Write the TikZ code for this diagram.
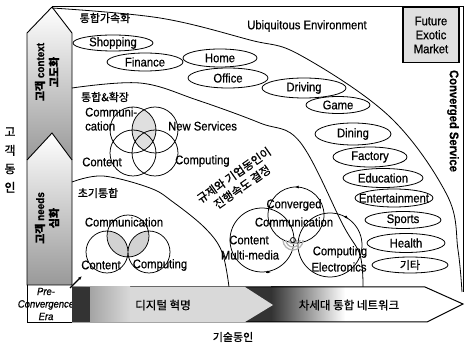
\documentclass[tikz,border=0pt]{standalone}
\usepackage{fontspec}
\setmainfont[FakeStretch=0.9, FakeBold=0.6]{Liberation Sans}
\newfontfamily\kr[FakeBold=0.8]{Noto Sans CJK KR}
\usetikzlibrary{shapes.geometric,arrows.meta}
\begin{document}
\begin{tikzpicture}[x=1pt,y=-1pt,
  every node/.style={inner sep=0pt},
  txt/.style={font=\fontsize{12.5}{14}\selectfont},
  ktxt/.style={font=\kr\fontsize{11}{13}\selectfont},
  oval/.style={ellipse, draw, fill=white, line width=0.8pt},
  arcline/.style={line width=0.8pt},
  vc/.style={line width=0.75pt},
  tick/.style={-{Latex[length=3.5pt,width=3pt]}, line width=0.7pt}]
\useasboundingbox (0,0) rectangle (466,347);

% left arrows
\shade[top color=white, middle color=white, bottom color=gray!80]
  (52,7) -- (72,33) -- (72,160) -- (27,160) -- (27,33) -- cycle;
\draw[line width=0.9pt] (52,7) -- (72,33) -- (72,160) (27,160) -- (27,33) -- (52,7);
\shade[top color=white, middle color=white, bottom color=gray!80]
  (52,133) -- (72,160) -- (72,285) -- (27,285) -- (27,160) -- cycle;
\draw[line width=0.9pt] (52,133) -- (72,160) -- (72,285) -- (27,285) -- (27,160) -- cycle;
\node[rotate=90, align=center, font=\bfseries\fontsize{11}{14}\selectfont] (ctx) at (47,72) {{\kr 고객} context\\{\kr 고도화}};
\node[rotate=90, align=center, font=\bfseries\fontsize{11}{14}\selectfont] (nds) at (47,218) {{\kr 고객} needs\\{\kr 심화}};

% frame
\draw[line width=1pt] (52,7) -- (463,7) -- (463,292);

% arcs
\draw[arcline] plot[smooth, tension=0.6] coordinates {(52,8) (160,18) (250,40) (300,55) (390,117) (447,195) (458,250) (462,292)};
\draw[arcline] plot[smooth, tension=0.6] coordinates {(72,88) (140,83) (197,100) (260,123) (300,142) (343,225) (360,255) (363,287)};
\draw[arcline] plot[smooth, tension=0.6] coordinates {(72,182) (103,176) (150,188) (173,202) (205,228) (222,252) (229,287)};

% future box
\node[draw, line width=1.2pt, fill=gray!25, minimum width=56, minimum height=55, align=center, txt] (fem) at (431,35) {Future\\Exotic\\Market};

% headings
\node[ktxt] (h1) at (105,18) {통합가속화};
\node[txt] (ue) at (307,26) {Ubiquitous Environment};
\node[rotate=-90, font=\bfseries\fontsize{12.5}{14}\selectfont] (cs) at (453,121) {Converged Service};
\node[ktxt] (h2) at (105,97) {통합\&확장};
\node[ktxt] (h3) at (98,193) {초기통합};

% ovals
\foreach \n/\x/\y/\w/\h in {shop/113/43/80/16, fin/145/62/76/18, home/220/58/74/18, off/228/78/80/20,
  drv/304/88/84/20, game/338/105/64/17, din/353/134/76/22, fac/370/157/74/20, edu/383/178/80/19,
  ent/394/198/78/18, spo/403/220/76/17, hea/406/243/78/19, etc/410/265/76/16}
  \node[oval, minimum width=\w, minimum height=\h] (\n) at (\x,\y) {};
\node[txt] at (shop) {Shopping};
\node[txt] at (fin) {Finance};
\node[txt] at (home) {Home};
\node[txt] at (off) {Office};
\node[txt] at (drv) {Driving};
\node[txt] at (game) {Game};
\node[txt] at (din) {Dining};
\node[txt] at (fac) {Factory};
\node[txt] at (edu) {Education};
\node[txt] at (ent) {Entertainment};
\node[txt] at (spo) {Sports};
\node[txt] at (hea) {Health};
\node[ktxt] at (etc) {기타};

% Venn 통합&확장
\begin{scope}
  \clip (133,130) circle[radius=23];
  \fill[gray!25] (155,130) circle[radius=23];
\end{scope}
\draw[vc] (133,130) circle[radius=23] (155,130) circle[radius=23]
          (133,153) circle[radius=23] (155,153) circle[radius=23];
\node[txt, anchor=west, align=left] (com) at (85,119) {Communi-\\cation};
\node[txt] (con) at (102,162) {Content};
\node[txt, anchor=west] (ns) at (168,126) {New Services};
\node[txt, anchor=west] (cp) at (175,161) {Computing};

% Venn 초기통합
\begin{scope}
  \clip (128,236) circle[radius=21];
  \fill[gray!35] (107,252) circle[radius=21];
  \fill[gray!35] (149,252) circle[radius=21];
\end{scope}
\draw[vc] (128,236) circle[radius=21] (107,252) circle[radius=21] (149,252) circle[radius=21];
\node[txt] (c1) at (124,222) {Communication};
\node[txt] (c2) at (101,265) {Content};
\node[txt] (c3) at (160,265) {Computing};

% regulatory text
\node[rotate=35, align=center, font=\kr\fontsize{11.5}{14.5}\selectfont] (reg) at (238,181) {규제와 기업동인이\\진행속도 결정};

% converged Venn
\draw[vc] (296,215) circle[radius=28] (262,240) circle[radius=32] (330,245) circle[radius=32];
\draw[tick] (299,187) -- (295,187);
\draw[tick] (266,272) -- (271,272);
\draw[tick] (345,216) -- (348,219);
\foreach \r in {4,7,10} \draw[gray!60, line width=1.3pt] (293-\r,240) arc[start angle=180, end angle=0, radius=\r];
\draw[line width=0.8pt] (293,240) circle[radius=2.5];
\node[txt] (cv1) at (294,205) {Converged};
\node[txt] (cv2) at (294,222) {Communication};
\node[txt] (cv3) at (249,240) {Content};
\node[txt] (cv4) at (250,255) {Multi-media};
\node[txt] (cv5) at (340,252) {Computing};
\node[txt] (cv6) at (339,267) {Electronics};

% bottom arrow
\fill[white] (72,287) -- (425,287) -- (463,304) -- (427,322) -- (72,322) -- cycle;
\fill[black!80] (72,287) rectangle (272,322);
\shade[left color=black!80, right color=white] (271,287) rectangle (345,322);
\draw[line width=1pt] (72,287) -- (425,287) -- (463,304) -- (427,322) -- (72,322);
\shade[left color=gray!90, right color=gray!30] (72,287) rectangle (130,322);
\fill[gray!30] (129.5,287) -- (245,287) -- (273,305) -- (245,322) -- (129.5,322) -- cycle;
\node[font=\kr\fontsize{11.5}{13}\selectfont] (dr) at (163,305) {디지털 혁명};
\node[font=\kr\fontsize{11.5}{13}\selectfont] (nn) at (349,305) {차세대 통합 네트워크};

% pre box
\node[align=center, font=\itshape\fontsize{10.5}{12.5}\selectfont] (pre) at (46,304) {Pre-\\Convergence\\Era};
\fill[black!80] (72,287) rectangle (90,322);
\draw[line width=0.9pt] (72,322) -- (27,322) -- (27,285);
\draw[line width=1.3pt, -{Latex[length=4pt]}] (70,288) -- (82,276);

% outside labels
\node[align=center, font=\kr\fontsize{12}{18.5}\selectfont] (gd) at (10,160) {고\\객\\동\\인};
\node[ktxt] (td) at (233,337) {기술동인};
\end{tikzpicture}
\end{document}
